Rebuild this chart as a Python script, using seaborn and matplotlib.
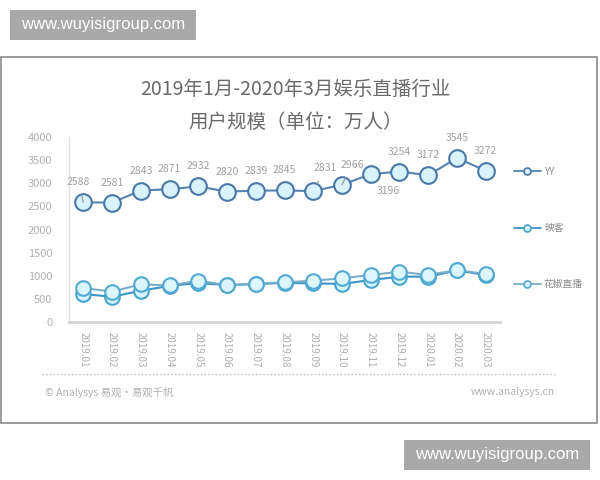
import numpy as np
import pandas as pd
import matplotlib
matplotlib.use("Agg")
import matplotlib.pyplot as plt
import seaborn as sns
from matplotlib.lines import Line2D
from matplotlib.patches import Rectangle

# 数据（万人）
months = ["2019.01", "2019.02", "2019.03", "2019.04", "2019.05", "2019.06", "2019.07",
          "2019.08", "2019.09", "2019.10", "2019.11", "2019.12", "2020.01", "2020.02", "2020.03"]
yy = [2588, 2581, 2843, 2871, 2932, 2820, 2839, 2845, 2831, 2966, 3196, 3254, 3172, 3545, 3272]
yingke = [605, 546, 677, 780, 845, 795, 820, 845, 836, 822, 908, 980, 980, 1115, 1016]
huajiao = [735, 655, 815, 790, 890, 800, 830, 858, 893, 945, 1016, 1088, 1016, 1124, 1038]
series_names = ["YY", "映客", "花椒直播"]

df = pd.DataFrame({"idx": range(len(months)), "month": months,
                   "YY": yy, "映客": yingke, "花椒直播": huajiao})
long_df = df.melt(id_vars=["idx", "month"], var_name="平台", value_name="用户规模")

sns.set_theme(style="white")
plt.rcParams['font.family'] = ['Noto Sans CJK SC', 'DejaVu Sans']

styles = {
    "YY": dict(color="#5582b0", mec="#4a78a8", mfc="#d8f3fc", ms=12),
    "映客": dict(color="#3a94c6", mec="#48a3cf", mfc="#d4f3fc", ms=10.5),
    "花椒直播": dict(color="#7aaec8", mec="#52aad2", mfc="#dcf6fd", ms=10.5),
}

fig = plt.figure(figsize=(6, 4.8), dpi=100)
ax = fig.add_axes([69 / 600, 1 - 322 / 480, 431 / 600, 185 / 480])

for name in ["映客", "花椒直播", "YY"]:
    st = styles[name]
    sns.lineplot(data=long_df[long_df["平台"] == name], x="idx", y="用户规模", ax=ax,
                 color=st["color"], marker="o", markersize=st["ms"],
                 markerfacecolor=st["mfc"], markeredgecolor=st["mec"],
                 markeredgewidth=1.5, linewidth=1.5, legend=False)

# YY 数据标签
offsets = {0: (-5, 20), 8: (12, 23), 9: (10, 20), 10: (18, -17)}
leader = {0, 8, 9}
for i, v in enumerate(yy):
    dx, dy = offsets.get(i, (0, 20))
    kw = {}
    if i in leader:
        kw["arrowprops"] = dict(arrowstyle="-", color="#999999", lw=0.9, shrinkA=4, shrinkB=6)
    ax.annotate(str(v), xy=(i, v), xytext=(dx, dy), textcoords="offset pixels",
                ha="center", va="center", fontsize=7.5, color="#a0a0a0",
                fontweight="light", **kw)

ax.set_xlim(-0.5, len(months) - 0.5)
ax.set_ylim(0, 4000)
ax.set_yticks(range(0, 4001, 500))
ax.set_xticks(range(len(months)))
ax.set_xticklabels(months, rotation=-90, fontweight="light")
ax.set_xlabel("")
ax.set_ylabel("")
ax.tick_params(axis="y", length=0, labelsize=8, labelcolor="#b0b0b0", pad=12)
ax.tick_params(axis="x", length=0, labelsize=7, labelcolor="#acacac", pad=7)
for s in ["top", "right"]:
    ax.spines[s].set_visible(False)
ax.spines["left"].set_color("#e0e0e0")
ax.spines["left"].set_linewidth(1)
ax.spines["bottom"].set_color("#d4d4d4")
ax.spines["bottom"].set_linewidth(2)

# 图例
handles = [Line2D([], [], color=styles[n]["color"], marker="o", markersize=5,
                  markerfacecolor=styles[n]["mfc"], markeredgecolor=styles[n]["mec"],
                  markeredgewidth=1.2, linewidth=1.3) for n in series_names]
leg = ax.legend(handles, series_names, loc="center left",
                bbox_to_anchor=(505 / 600, 1 - 228 / 480), bbox_transform=fig.transFigure,
                frameon=False, fontsize=7, labelcolor="#888888", handlelength=2.8,
                handletextpad=0.3, labelspacing=4.75)

# 标题
fig.text(0.493, 1 - 89 / 480, "2019年1月-2020年3月娱乐直播行业", ha="center", va="center",
         fontsize=14, color="#6a6a6a", fontweight="light")
fig.text(0.493, 1 - 122 / 480, "用户规模（单位：万人）", ha="center", va="center",
         fontsize=14, color="#6a6a6a", fontweight="light")

# 外框
fig.add_artist(Rectangle((1 / 600, 1 - 423 / 480), 596 / 600, 366 / 480,
                         transform=fig.transFigure, fill=False, ec="#8a8a8a", lw=1.2))

# 底部信息
fig.add_artist(Line2D([42 / 600, 555 / 600], [1 - 374 / 480] * 2, transform=fig.transFigure,
                      ls=":", color="#bbbbbb", lw=1))
fig.text(45 / 600, 1 - 392 / 480, "© Analysys 易观·易观千帆", ha="left", va="center",
         fontsize=7.5, color="#b0b0b0")
fig.text(555 / 600, 1 - 392 / 480, "www.analysys.cn", ha="right", va="center",
         fontsize=7.5, color="#b0b0b0")

# 水印
for (x0, y0) in [(10, 10), (404, 440)]:
    fig.add_artist(Rectangle((x0 / 600, 1 - (y0 + 30) / 480), 186 / 600, 30 / 480,
                             transform=fig.transFigure, fc="#a9a9a9", ec="none"))
    fig.text((x0 + 93) / 600, 1 - (y0 + 15) / 480, "www.wuyisigroup.com", ha="center",
             va="center", fontsize=12, color="white", family="Liberation Sans")

fig.savefig("out.png", dpi=100)
